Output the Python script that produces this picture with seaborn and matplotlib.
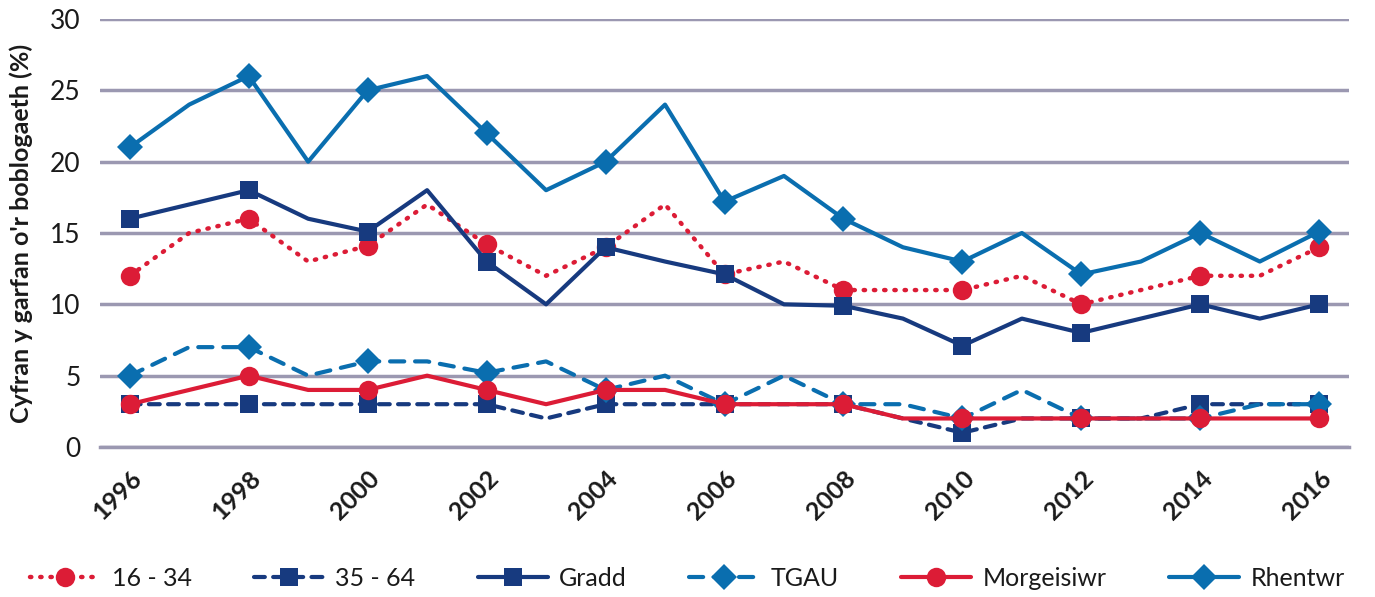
import matplotlib
matplotlib.use("Agg")
import matplotlib.pyplot as plt
import seaborn as sns
import pandas as pd

years = list(range(1996, 2017))

age_16_34 = [12, 15, 16, 13, 14.1, 17, 14.2, 12, 14, 17, 12.1,
             13, 11, 11, 11, 12, 10, 11, 12, 12, 14]
age_35_64 = [3, 3, 3, 3, 3, 3, 3, 2, 3, 3, 3,
             3, 3, 2, 1, 2, 2, 2, 3, 3, 3]
gradd = [16, 17, 18, 16, 15.1, 18, 13, 10, 14, 13, 12.1,
         10, 9.9, 9, 7.1, 9, 8, 9, 10, 9, 10]
tgau = [5, 7, 7, 5, 6, 6, 5.2, 6, 4, 5, 3,
        5, 3, 3, 2, 4, 2, 2, 2, 3, 3]
morgeisiwr = [3, 4, 5, 4, 4, 5, 4, 3, 4, 4, 3,
              3, 3, 2, 2, 2, 2, 2, 2, 2, 2]
rhentwr = [21, 24, 26, 20, 25, 26, 22, 18, 20, 24, 17.2,
           19, 16, 14, 13, 15, 12.1, 13, 15, 13, 15.1]

series_names = ["16 - 34", "35 - 64", "Gradd", "TGAU", "Morgeisiwr", "Rhentwr"]
series_values = [age_16_34, age_35_64, gradd, tgau, morgeisiwr, rhentwr]

RED = "#dc1c36"
NAVY = "#173a7f"
BLUE = "#0a6eaf"
GRID = "#9b98b1"

styles = {
    "16 - 34": dict(color=RED, linestyle=(0, (0.3, 2.0)), marker="o", markersize=14, lw=3.2),
    "35 - 64": dict(color=NAVY, linestyle=(0, (2.6, 2.0)), marker="s", markersize=13, lw=3.0),
    "Gradd": dict(color=NAVY, linestyle="-", marker="s", markersize=13, lw=3.0),
    "TGAU": dict(color=BLUE, linestyle=(0, (3.4, 2.6)), marker="D", markersize=13, lw=3.0),
    "Morgeisiwr": dict(color=RED, linestyle="-", marker="o", markersize=14, lw=3.0),
    "Rhentwr": dict(color=BLUE, linestyle="-", marker="D", markersize=13, lw=3.0),
}

df = pd.DataFrame({"year": years})
for name, vals in zip(series_names, series_values):
    df[name] = vals

sns.set_style("white")
plt.rcParams["font.family"] = ["Lato", "DejaVu Sans"]

fig = plt.figure(figsize=(13.75, 5.97), dpi=100)
ax = fig.add_axes([100 / 1375, 150 / 597, 1249 / 1375, 428 / 597])

for name in series_names:
    st = styles[name]
    sns.lineplot(data=df, x="year", y=name, ax=ax, label=name,
                 color=st["color"], linestyle=st["linestyle"], linewidth=st["lw"],
                 marker=st["marker"], markersize=st["markersize"], markevery=2,
                 markeredgewidth=0, dash_capstyle="round", solid_capstyle="round")

ax.set_xlim(1995.5, 2016.5)
ax.set_ylim(0, 30)
ax.set_yticks(range(0, 31, 5))
ax.set_xticks(years, minor=False)
ax.set_xticklabels([str(y) if (y - 1996) % 2 == 0 else "" for y in years],
                   rotation=45, ha="right", rotation_mode="anchor",
                   fontsize=18, fontweight="bold", color="#1a1a1a")
ax.tick_params(axis="y", length=0, labelsize=19, labelcolor="#1a1a1a", pad=14)
ax.tick_params(axis="x", direction="inout", length=12, width=2, color=GRID,
               pad=8)
ax.yaxis.grid(True, color=GRID, linewidth=2.5)
ax.set_axisbelow(True)
for side in ["left", "right", "top"]:
    ax.spines[side].set_visible(False)
ax.spines["bottom"].set_color(GRID)
ax.spines["bottom"].set_linewidth(2.5)

ax.set_xlabel("")
ax.set_ylabel("Cyfran y garfan o'r boblogaeth (%)", fontsize=18,
              fontweight="bold", color="#1a1a1a", labelpad=12)

handles, labels = ax.get_legend_handles_labels()
ax.get_legend().remove()
fig.legend(handles, labels, loc="center", bbox_to_anchor=(0.5, 19 / 597),
           ncol=6, frameon=False, fontsize=18, handlelength=2.8,
           handletextpad=0.45, columnspacing=2.5, labelcolor="#1a1a1a")

fig.savefig("out.png", dpi=100)
